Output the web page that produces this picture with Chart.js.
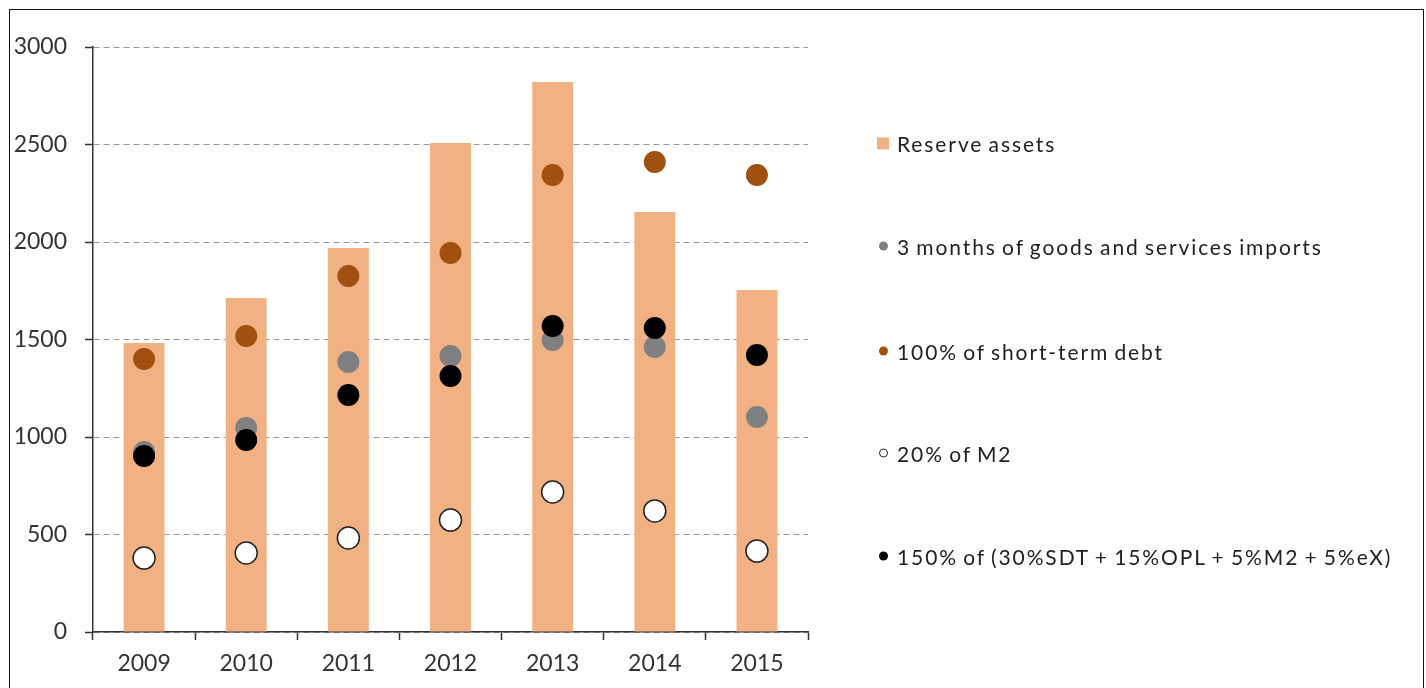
<!DOCTYPE html>
<html>
<head>
<meta charset="utf-8">
<script src="https://cdn.jsdelivr.net/npm/chart.js@4"></script>
<style>
  html, body { margin: 0; padding: 0; background: #fff; }
  body { width: 1426px; height: 688px; position: relative; overflow: hidden; font-family: Lato, sans-serif; }
  #frame { position: absolute; left: 9px; top: 9px; width: 1415px; height: 700px; border: 1.5px solid #111; box-sizing: border-box; }
  #wrap { position: absolute; left: 0; top: 0; width: 1426px; height: 688px; }
  #legend { position: absolute; left: 877px; top: 0; font-size: 21px; letter-spacing: 1.9px; word-spacing: -2px; color: #222; }
  .item { position: absolute; white-space: nowrap; display: flex; align-items: center; transform: translateY(-50%); }
  .mark { display: inline-block; margin-right: 8px; box-sizing: border-box; }
</style>
</head>
<body>
<div id="frame"></div>
<div id="wrap"><canvas id="chart"></canvas></div>
<div id="legend"></div>
<script>
/* DATA */
const years = ["2009", "2010", "2011", "2012", "2013", "2014", "2015"];
const reserveAssets = [1482, 1713, 1969, 2508, 2821, 2154, 1754];
const importsThreeMonths = [923, 1046, 1385, 1415, 1497, 1462, 1103];
const shortTermDebt = [1400, 1518, 1826, 1944, 2344, 2410, 2344];
const m2Share = [379, 405, 482, 574, 718, 621, 415];
const compositeMetric = [903, 985, 1215, 1313, 1569, 1559, 1421];
const yTicks = [0, 500, 1000, 1500, 2000, 2500, 3000];

const labels = [
    "Reserve assets",
    "3 months of goods and services imports",
    "100% of short-term debt",
    "20% of M2",
    "150% of (30%SDT + 15%OPL + 5%M2 + 5%eX)"
];

const peach = "#F2B183";
const brown = "#A0500F";
const grey = "#808080";

function dots(label, values, fill, border, order) {
    return {
        type: "line",
        label: label,
        data: values,
        showLine: false,
        pointRadius: 11,
        pointHoverRadius: 11,
        pointBackgroundColor: fill,
        pointBorderColor: border,
        pointBorderWidth: border === fill ? 0 : 1.5,
        order: order
    };
}

/* CHART */
new Chart(document.getElementById("chart"), {
    type: "bar",
    data: {
        labels: years,
        datasets: [
            { label: labels[0], data: reserveAssets, backgroundColor: peach, barPercentage: 0.4, categoryPercentage: 1, order: 10 },
            dots(labels[1], importsThreeMonths, grey, grey, 4),
            dots(labels[2], shortTermDebt, brown, brown, 3),
            dots(labels[3], m2Share, "#fff", "#222", 2),
            dots(labels[4], compositeMetric, "#000", "#000", 1)
        ]
    },
    options: {
        responsive: true,
        maintainAspectRatio: false,
        animation: false,
        layout: { padding: { left: 10, top: 47, right: 618, bottom: 0 } },
        plugins: { legend: { display: false }, tooltip: { enabled: false } },
        scales: {
            x: {
                grid: { offset: true, drawOnChartArea: false, drawTicks: true, tickLength: 8, tickColor: "#333", tickWidth: 1.5 },
                border: { color: "#333", width: 1.5 },
                ticks: { color: "#333", font: { family: "Lato", size: 23 }, padding: 10 },
                afterFit: s => { s.height = 56; }
            },
            y: {
                min: 0, max: 3000,
                afterBuildTicks: s => { s.ticks = yTicks.map(v => ({ value: v })); },
                grid: { color: "#999", lineWidth: 1, tickColor: "#333", tickWidth: 1.5, tickLength: 8, tickBorderDash: [] },
                border: { color: "#333", width: 1.5, dash: [6, 4] },
                ticks: { color: "#333", font: { family: "Lato", size: 23 }, padding: 18, callback: v => String(v) },
                afterFit: s => { s.width = 83; }
            }
        }
    }
});

/* LEGEND */
const legendY = [143, 246, 351, 453, 556];
const legendMarks = [
    { w: 12, h: 12, bg: peach, r: 0, b: "none" },
    { w: 9, h: 9, bg: grey, r: 50, b: "none" },
    { w: 9, h: 9, bg: brown, r: 50, b: "none" },
    { w: 9, h: 9, bg: "#fff", r: 50, b: "1.2px solid #222" },
    { w: 9, h: 9, bg: "#000", r: 50, b: "none" }
];
const legend = document.getElementById("legend");
labels.forEach((txt, i) => {
    const m = legendMarks[i];
    const item = document.createElement("div");
    item.className = "item";
    item.style.top = legendY[i] + "px";
    item.style.left = (m.w === 12 ? 0 : 1.5) + "px";
    const mark = document.createElement("span");
    mark.className = "mark";
    mark.style.width = m.w + "px";
    mark.style.height = m.h + "px";
    mark.style.background = m.bg;
    mark.style.borderRadius = m.r + "%";
    mark.style.border = m.b;
    if (m.w !== 12) mark.style.marginRight = "9.5px";
    const t = document.createElement("span");
    t.textContent = txt;
    item.appendChild(mark);
    item.appendChild(t);
    legend.appendChild(item);
});
</script>
</body>
</html>
